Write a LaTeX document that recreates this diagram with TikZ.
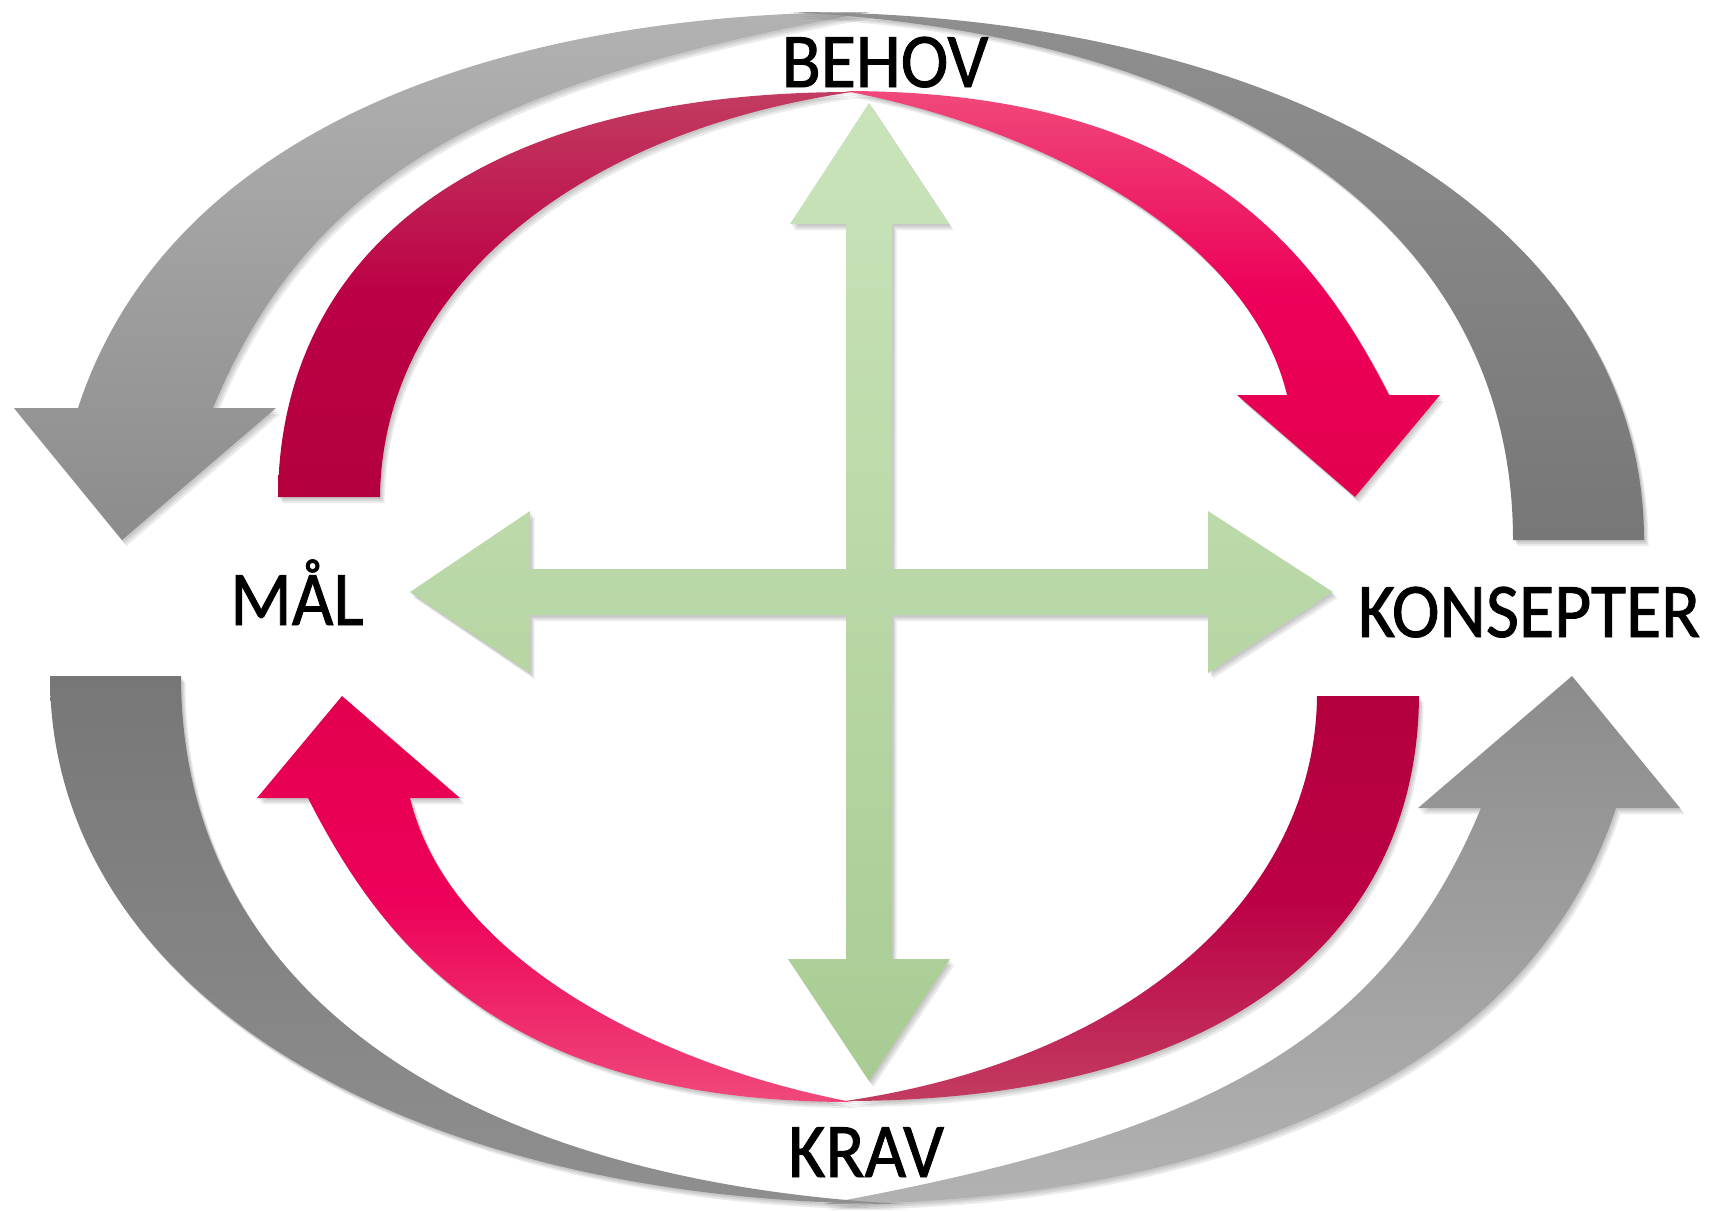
\documentclass[tikz,border=0pt]{standalone}
\usepackage{fontspec}
\setmainfont{Carlito}
\newfontfamily\lblfont[FakeBold=1.2]{Carlito}
\usepackage{graphicx}
\definecolor{gLtop}{HTML}{B2B2B2}
\definecolor{gLbot}{HTML}{8C8C8C}
\definecolor{gDtop}{HTML}{8F8F8F}
\definecolor{gDbot}{HTML}{777777}
\definecolor{crTop}{HTML}{C23C60}
\definecolor{crMid}{HTML}{BC0046}
\definecolor{crBot}{HTML}{B4003E}
\definecolor{pkTop}{HTML}{F0497A}
\definecolor{pkMid}{HTML}{ED0059}
\definecolor{pkBot}{HTML}{E3004F}
\definecolor{grTop}{HTML}{CAE4BA}
\definecolor{grBot}{HTML}{A8CB93}
\begin{document}
\begin{tikzpicture}[x=0.01cm,y=-0.01cm]
\tikzset{
  shadowfill/.style={black,opacity=0.08},
  lbl/.style={anchor=base,inner sep=0pt,font=\lblfont\fontsize{22}{26}\selectfont}
}
\newcommand\myshadow[2]{%
  \fill[shadowfill,shift={({#1*1.5},{#1*2})}] #2;
  \fill[shadowfill,shift={({#1*3},{#1*4})}] #2;
  \fill[shadowfill,shift={({#1*4.5},{#1*6})}] #2;
}
\useasboundingbox (0,0) rectangle (1721,1211);
\fill[white] (0,0) rectangle (1721,1211);

% light grey arrow (upper left)
\def\grayL{(213,408) -- (276,408) -- (122,540) -- (14,408) -- (78,408)
  .. controls (171,123) and (510,12) .. (870,12)
  .. controls (498,80) and (312,169) .. (213,408) -- cycle}
% dark grey band (upper right)
\def\grayD{(1513,540) -- (1644,540)
  .. controls (1644,230) and (1300,12) .. (790,12)
  .. controls (1230,35) and (1513,225) .. (1513,540) -- cycle}
% crimson band (upper left)
\def\crim{(278,497) -- (380,497)
  .. controls (382,300) and (560,135) .. (852,92)
  .. controls (480,92) and (280,250) .. (278,497) -- cycle}
% pink arrow (upper right)
\def\pink{(1287,395) -- (1237,395) -- (1355,497) -- (1440,395) -- (1389,395)
  .. controls (1308,235) and (1180,91) .. (845,91)
  .. controls (1050,130) and (1250,240) .. (1287,395) -- cycle}
% green four-way arrow
\def\cross{(869,103) -- (949,224) -- (892,224) -- (892,569) -- (1208,569) -- (1208,511) -- (1333,592) -- (1208,673) -- (1208,615) -- (892,615) -- (892,959) -- (950,959) -- (869,1081) -- (788,959) -- (846,959) -- (846,615) -- (530,615) -- (530,673) -- (410,592) -- (530,511) -- (530,569) -- (846,569) -- (846,224) -- (790,224) -- cycle}

% upper grey pieces
\myshadow{1}{\grayL}
\shade[top color=gLtop,bottom color=gLbot] \grayL;
\myshadow{1}{\grayD}
\shade[top color=gDtop,bottom color=gDbot] \grayD;
% lower grey pieces (point-symmetric)
\begin{scope}[rotate around={180:(847,608)}]
  \myshadow{-1}{\grayL}
  \shade[top color=gLbot,bottom color=gLtop] \grayL;
  \myshadow{-1}{\grayD}
  \shade[top color=gDbot,bottom color=gDtop] \grayD;
\end{scope}

% upper pink pieces
\myshadow{1}{\crim}
\shade[top color=crTop,bottom color=crBot,middle color=crMid] \crim;
\myshadow{1}{\pink}
\shade[top color=pkTop,bottom color=pkBot,middle color=pkMid] \pink;
% lower pink pieces
\begin{scope}[rotate around={180:(848.5,596.5)}]
  \myshadow{-1}{\crim}
  \shade[top color=crBot,bottom color=crTop,middle color=crMid] \crim;
  \myshadow{-1}{\pink}
  \shade[top color=pkBot,bottom color=pkTop,middle color=pkMid] \pink;
\end{scope}

% green cross
\myshadow{1}{\cross}
\shade[top color=grTop,bottom color=grBot] \cross;

% labels
\node[lbl] (behov) at (885,87) {\scalebox{0.93}[1]{BEHOV}};
\node[lbl] (maal) at (297,625) {\scalebox{0.93}[1]{MÅL}};
\node[lbl] (konsepter) at (1529,637) {\scalebox{0.93}[1]{KONSEPTER}};
\node[lbl] (krav) at (866,1177) {\scalebox{0.93}[1]{KRAV}};
\end{tikzpicture}
\end{document}
